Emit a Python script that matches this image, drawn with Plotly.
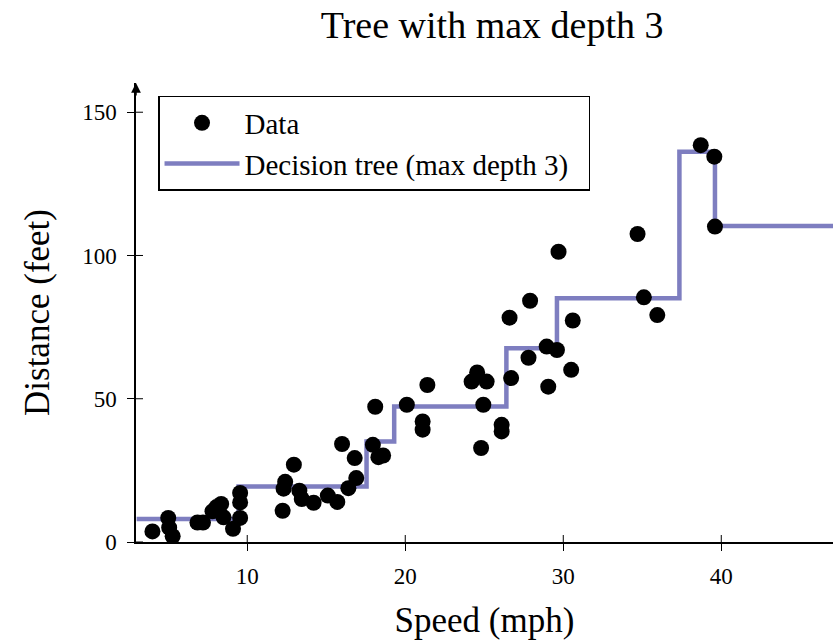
import plotly.graph_objects as go

# ---- data ----
speed = [4.0, 5.0, 5.06, 5.28, 6.85, 7.2, 7.8, 8.05, 8.35, 8.5, 9.1, 9.55, 9.55, 9.55,
         12.24, 12.3, 12.4, 12.95, 13.3, 13.45, 14.2, 15.1, 15.7, 16.0, 16.4, 16.8, 16.9,
         17.95, 18.1, 18.3, 18.6, 20.1, 21.1, 21.1, 21.4,
         24.2, 24.55, 25.15, 24.94, 24.8, 26.1, 26.1, 26.7, 26.6, 27.8, 27.9, 28.95, 29.05,
         29.6, 29.7, 30.5, 30.6, 34.7, 35.1, 35.95, 38.7, 39.56, 39.6]
distance = [3.7, 8.4, 5.0, 2.0, 6.8, 6.8, 10.7, 12.2, 13.3, 8.6, 4.6, 8.4, 13.8, 17.1,
            10.9, 18.6, 21.0, 27.0, 17.9, 15.0, 13.7, 16.2, 14.0, 34.2, 18.8, 29.3, 22.3,
            33.9, 47.2, 29.6, 30.2, 47.9, 42.1, 39.2, 54.8,
            56.0, 59.2, 56.0, 47.9, 32.8, 40.9, 38.6, 57.2, 78.3, 64.3, 84.2, 68.2, 54.2,
            67.0, 101.3, 60.1, 77.3, 107.5, 85.4, 79.2, 138.5, 134.5, 110.1]

# decision tree (max depth 3): split thresholds and leaf predictions
speed_min, speed_max = 3.0, 48.0
tree_splits = [9.45, 17.55, 19.3, 26.4, 29.6, 37.35, 39.6]
tree_leaves = [8.0, 19.4, 35.1, 47.3, 67.6, 85.1, 136.2, 110.3]

x_ticks = [10, 20, 30, 40]
y_ticks = [0, 50, 100, 150]
x_range = [2.96, 47.07]
y_range = [0, 160.2]

step_x = [speed_min] + tree_splits + [speed_max]
step_y = tree_leaves + [tree_leaves[-1]]

SERIF = "Liberation Serif, Times New Roman, serif"
LINE_COLOR = "#7e7ec0"

fig = go.Figure()
fig.add_trace(go.Scatter(
    x=step_x, y=step_y, mode="lines", line_shape="hv",
    line=dict(color=LINE_COLOR, width=4.5),
    name="Decision tree (max depth 3)\u00a0\u00a0", legendrank=2))
fig.add_trace(go.Scatter(
    x=speed, y=distance, mode="markers",
    marker=dict(color="black", size=16, line=dict(width=0)),
    name="Data", legendrank=1))

fig.update_layout(
    width=833, height=640,
    margin=dict(l=136, r=0, t=83, b=97.7),
    paper_bgcolor="white", plot_bgcolor="white",
    font=dict(family=SERIF, color="black"),
    title=dict(text="Tree with max depth 3", xref="paper", x=0.511, xanchor="center",
               yref="container", y=0.962, yanchor="middle",
               font=dict(size=38, family=SERIF)),
    xaxis=dict(range=x_range, tickvals=x_ticks, ticks="outside", ticklen=7,
               tickwidth=1, tickcolor="black", showline=True, linecolor="black",
               linewidth=1.5, tickfont=dict(size=23, family=SERIF),
               ticklabelstandoff=6, automargin=False,
               title=dict(text="Speed (mph)", font=dict(size=35, family=SERIF), standoff=19),
               showgrid=False, zeroline=False),
    yaxis=dict(range=y_range, tickvals=y_ticks, ticks="outside", ticklen=7,
               tickwidth=1, tickcolor="black", showline=True, linecolor="black",
               linewidth=1.5, tickfont=dict(size=23, family=SERIF),
               ticklabelstandoff=6, automargin=False,
               title=dict(text="Distance (feet)", font=dict(size=35, family=SERIF), standoff=22),
               showgrid=False, zeroline=False),
    legend=dict(x=0.0316, y=0.9717, xanchor="left", yanchor="top",
                bgcolor="white", bordercolor="black", borderwidth=1.5,
                font=dict(size=29, family=SERIF), tracegroupgap=0,
                itemwidth=75),
    showlegend=True,
)

# inner halves of the crossing tick marks (pgfplots style)
for t in x_ticks:
    fig.add_shape(type="line", xref="x", x0=t, x1=t, yref="paper",
                  ysizemode="pixel", yanchor=0, y0=0, y1=7,
                  line=dict(color="black", width=1))
for t in y_ticks:
    fig.add_shape(type="line", yref="y", y0=t, y1=t, xref="paper",
                  xsizemode="pixel", xanchor=0, x0=0, x1=7,
                  line=dict(color="black", width=1))

# arrow head at the top of the y axis
fig.add_annotation(x=0, y=1, xref="paper", yref="paper", ax=0, ay=14,
                   showarrow=True, arrowhead=2, arrowsize=1.3, arrowwidth=1.5,
                   arrowcolor="black", text="")

# remove the browser's default 8px body margin so the figure sits at (0, 0)
fig.write_html("out.html", config={"displayModeBar": False},
               post_script="document.body.style.margin='0';")
